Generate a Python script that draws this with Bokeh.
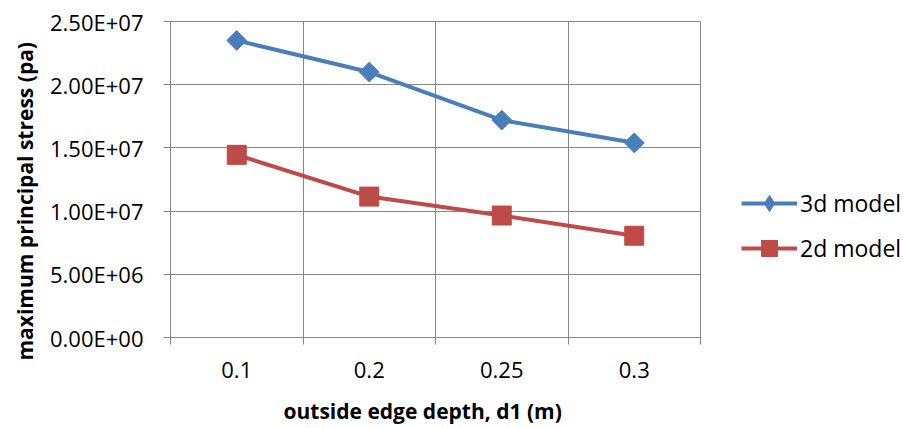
import numpy as np
from bokeh.plotting import figure
from bokeh.models import FixedTicker, Legend, LegendItem, Range1d, Title
from bokeh.embed import file_html
from bokeh.resources import INLINE

categories = ["0.1", "0.2", "0.25", "0.3"]
model_3d = [2.35e7, 2.10e7, 1.72e7, 1.54e7]
model_2d = [1.445e7, 1.115e7, 9.65e6, 8.05e6]
y_ticks = [0, 5e6, 1e7, 1.5e7, 2e7, 2.5e7]
x_title = "outside edge depth, d1 (m)"
y_title = "maximum principal stress (pa)"

FONT = "Open Sans"
GRID = "#868686"
BLUE = "#4A7EBB"
RED = "#BE4B48"

xs = list(range(1, len(categories) + 1))
bounds = [i + 0.5 for i in range(0, len(categories) + 1)]

p = figure(width=905, height=425, output_backend="svg", toolbar_location=None,
           x_range=Range1d(0.5, len(categories) + 0.5), y_range=Range1d(0, 2.5e7),
           frame_width=530, frame_height=316, min_border_left=170, min_border_top=21,
           min_border_bottom=10, min_border_right=10)
p.outline_line_color = GRID

# x axis
p.xaxis.ticker = FixedTicker(ticks=xs, minor_ticks=bounds)
p.xaxis.major_label_overrides = {x: c for x, c in zip(xs, categories)}
p.xaxis.major_tick_line_color = None
p.xaxis.major_tick_out = 0
p.xaxis.major_tick_in = 0
p.xaxis.minor_tick_out = 7
p.xaxis.minor_tick_in = 0
p.xaxis.minor_tick_line_color = GRID
p.xaxis.major_label_standoff = 17
p.xgrid.ticker = FixedTicker(ticks=bounds)

# y axis
p.yaxis.ticker = FixedTicker(ticks=y_ticks)
p.yaxis.major_label_overrides = {v: f"{v:.2E}" for v in y_ticks}
p.yaxis.major_tick_out = 7
p.yaxis.major_tick_in = 0
p.yaxis.minor_tick_line_color = None
p.yaxis.major_tick_line_color = GRID
p.yaxis.major_label_standoff = 20

for ax in (p.xaxis, p.yaxis):
    ax.axis_line_color = GRID
    ax.major_label_text_font = FONT
    ax.major_label_text_font_size = "22px"
    ax.major_label_text_color = "black"

for g in (p.xgrid, p.ygrid):
    g.grid_line_color = GRID
    g.grid_line_width = 1

# axis titles (offset from the frame centre as in the original)
p.add_layout(Title(text=x_title, align="left", offset=113, standoff=28,
                   text_font=FONT, text_font_style="bold", text_font_size="21px",
                   text_color="black"), "below")
p.add_layout(Title(text=y_title, align="left", vertical_align="top", offset=-23,
                   standoff=14, text_font=FONT, text_font_style="bold",
                   text_font_size="21px", text_color="black"), "left")

l1 = p.line(xs, model_3d, line_color=BLUE, line_width=4)
# diamond key for the legend (hidden beneath the rotated squares)
k1 = p.scatter(xs, model_3d, marker="diamond", size=18, fill_color=BLUE, line_color=BLUE)
m1 = p.scatter(xs, model_3d, marker="square", angle=np.pi / 4, size=14,
               fill_color=BLUE, line_color=BLUE)
l2 = p.line(xs, model_2d, line_color=RED, line_width=4)
m2 = p.scatter(xs, model_2d, marker="square", size=19, fill_color=RED, line_color=RED)

legend = Legend(items=[LegendItem(label="3d model", renderers=[l1, k1]),
                       LegendItem(label="2d model", renderers=[l2, m2])],
                location=(41, 69), glyph_width=56, glyph_height=40, spacing=5,
                label_text_font=FONT, label_text_font_size="23px",
                label_text_color="black",
                label_standoff=3, border_line_color=None, background_fill_alpha=0,
                padding=0, margin=0)
p.add_layout(legend, "right")

open("out.html", "w").write(file_html(p, INLINE))
